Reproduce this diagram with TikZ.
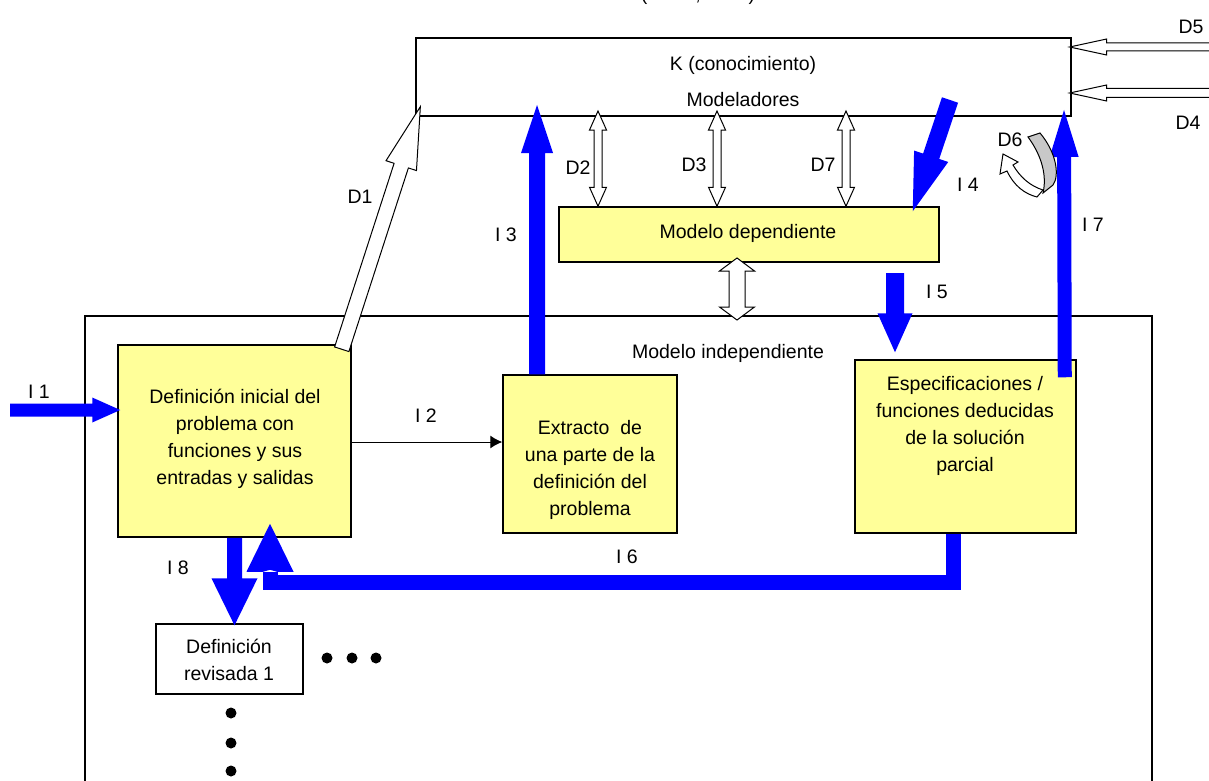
\documentclass[tikz,border=0pt]{standalone}
\usepackage{fontspec}
\setmainfont{Liberation Sans}
\usetikzlibrary{calc,arrows.meta}
\definecolor{yfill}{RGB}{255,255,153}
\definecolor{bandgray}{RGB}{200,200,200}
% fat single-headed arrow: style, start, end, half shaft, half head, head length
\newcommand{\fatarr}[6]{%
  \path #2 coordinate (fas);
  \path #3 coordinate (fae);
  \path ($(fae)!#6!(fas)$) coordinate (fab);
  \draw[#1] ($(fas)!#4!90:(fae)$) -- ($(fab)!#4!-90:(fas)$) -- ($(fab)!#5!-90:(fas)$) -- (fae)
    -- ($(fab)!#5!90:(fas)$) -- ($(fab)!#4!90:(fas)$) -- ($(fas)!#4!-90:(fae)$) -- cycle;
}
% fat double-headed arrow
\newcommand{\dfatarr}[6]{%
  \path #2 coordinate (fas);
  \path #3 coordinate (fae);
  \path ($(fae)!#6!(fas)$) coordinate (fab);
  \path ($(fas)!#6!(fae)$) coordinate (fac);
  \draw[#1] (fas) -- ($(fac)!#5!90:(fae)$) -- ($(fac)!#4!90:(fae)$) -- ($(fab)!#4!-90:(fas)$)
    -- ($(fab)!#5!-90:(fas)$) -- (fae) -- ($(fab)!#5!90:(fas)$) -- ($(fab)!#4!90:(fas)$)
    -- ($(fac)!#4!-90:(fae)$) -- ($(fac)!#5!-90:(fae)$) -- cycle;
}
\tikzset{
  ybox/.style={draw, line width=1.5pt, fill=yfill, inner sep=0pt},
  wbox/.style={draw, line width=1.3pt, fill=white, inner sep=0pt},
  lbl/.style={font=\fontsize{19.5}{27}\selectfont, inner sep=0pt, align=center},
  barr/.style={fill=blue, draw=none},
  harr/.style={fill=white, draw=black, line width=1pt, line join=miter},
}
\begin{document}
\begin{tikzpicture}[x=1pt,y=-1pt]
\useasboundingbox (0,0) rectangle (1209,781);
% partially visible title
\node[lbl, anchor=base] (toptxt) at (698,1) {(\hspace*{48pt},\hspace*{48pt})};
% knowledge box
\node[draw, line width=1.3pt, minimum width=655pt, minimum height=78pt] (K) at (743.5,77) {};
\node[lbl] (Ktxt) at (743,65) {K (conocimiento)};
\node[lbl] (Kmod) at (743,100) {Modeladores};
% independent model frame
\draw[line width=1.3pt] (85,782) -- (85,316) -- (1152,316) -- (1152,782);
\node[lbl] (indeplbl) at (728,353) {Modelo independiente};
% boxes
\node[ybox, minimum width=233pt, minimum height=192pt] (box1) at (234.5,441) {};
\node[ybox, minimum width=174pt, minimum height=158pt] (box2) at (590,454) {};
\node[ybox, minimum width=221pt, minimum height=173pt] (box3) at (965.5,446.5) {};
\node[ybox, minimum width=380pt, minimum height=55pt] (dep) at (749,234.5) {};
\node[wbox, minimum width=147pt, minimum height=70pt] (rev) at (229.5,659) {};
\node[lbl] (t1) at (235,439) {Definición inicial del\\problema con\\funciones y sus\\entradas y salidas};
\node[lbl] (t2) at (590,469.5) {Extracto\ \ de\\una parte de la\\definición del\\problema};
\node[lbl] (t3) at (965,426) {Especificaciones /\\funciones deducidas\\de la solución\\parcial};
\node[lbl] (tdep) at (748,233) {Modelo dependiente};
\node[lbl] (trev) at (229,660) {Definición\\revisada 1};
% free end coordinates
\coordinate (i1s) at (10,410);
\coordinate (i3e) at (537,105);
\coordinate (d2t) at (598,111);
\coordinate (d3t) at (717,111);
\coordinate (d7t) at (846,111);
\coordinate (mdt) at (737,258);
\coordinate (mdb) at (737,320);
\coordinate (i4s) at (950,100);
\coordinate (i5s) at (895,273);
\coordinate (i7e) at (1064,110);
\coordinate (d5s) at (1216,47);
\coordinate (d4s) at (1216,93);
% I1
\fatarr{barr}{(i1s)}{([xshift=3pt]box1.west |- i1s)}{6.5pt}{12.5pt}{28pt}
% I2
\draw[line width=1pt, -{Latex[length=12pt,width=13pt]}] (box1.east |- 0,442) -- (box2.west |- 0,442);
% I3
\fatarr{barr}{(box2.north -| i3e)}{(i3e)}{8pt}{16pt}{48pt}
% D1
\fatarr{harr}{([xshift=-10pt,yshift=-5pt]box1.north east)}{([xshift=5pt,yshift=10pt]K.south west)}{7.5pt}{16pt}{62pt}
% D2 D3 D7
\dfatarr{harr}{(d2t)}{(d2t |- dep.north)}{4pt}{8.5pt}{19pt}
\dfatarr{harr}{(d3t)}{(d3t |- dep.north)}{4pt}{8.5pt}{19pt}
\dfatarr{harr}{(d7t)}{(d7t |- dep.north)}{4pt}{8.5pt}{19pt}
% dependent <-> independent
\dfatarr{harr}{(mdt)}{(mdb)}{8pt}{17.5pt}{13pt}
% I4
\fatarr{barr}{(i4s)}{([xshift=-27pt,yshift=-5pt]dep.north east)}{8.5pt}{18pt}{58pt}
% I5
\fatarr{barr}{(i5s)}{([xshift=-70.5pt,yshift=7pt]box3.north)}{9pt}{17.5pt}{39pt}
% I7
\fatarr{barr}{([xshift=-12pt,yshift=-18pt]box3.north east)}{(i7e)}{7pt}{14.5pt}{47pt}
% I6
\draw[blue, line width=15pt, line join=miter] ([xshift=-12.5pt]box3.south) |- ([xshift=35.5pt,yshift=-45pt]box1.south) -- ([xshift=35.5pt,yshift=-34pt]box1.south);
\fatarr{barr}{([xshift=35.5pt,yshift=-30pt]box1.south)}{([xshift=35.5pt,yshift=14pt]box1.south)}{7pt}{23.5pt}{48pt}
% I8
\fatarr{barr}{(box1.south)}{([yshift=-2pt]box1.south |- rev.north)}{7.5pt}{23pt}{47pt}
% D5 D4
\fatarr{harr}{(d5s)}{([xshift=-2pt]K.east |- d5s)}{4pt}{8pt}{37pt}
\fatarr{harr}{(d4s)}{([xshift=-2pt]K.east |- d4s)}{4.5pt}{8pt}{37pt}
% D6 curled arrow
\draw[harr] (1037,197) .. controls (1025,194) and (1014,186) .. (1007,171) -- (1000,174) -- (1003,154)
  -- (1018,162) -- (1013,165) .. controls (1020,177) and (1030,186) .. (1043,190) -- cycle;
\draw[fill=bandgray, draw=black, line width=1pt] (1028,137) -- (1040,133) .. controls (1056,152) and (1060,175) .. (1053,185)
  -- (1043,193) .. controls (1047,176) and (1042,156) .. (1028,137) -- cycle;
% dots
\foreach \dx in {327,352,376} \fill (\dx,658) circle (5.5pt);
\foreach \dy in {713,743,771} \fill (231,\dy) circle (5.5pt);
% labels
\node[lbl] (l1) at (39,392) {I 1};
\node[lbl] (l2) at (426,416) {I 2};
\node[lbl] (l3) at (506,235) {I 3};
\node[lbl] (ld1) at (360,197) {D1};
\node[lbl] (ld2) at (578,168) {D2};
\node[lbl] (ld3) at (694,165) {D3};
\node[lbl] (ld7) at (823,165) {D7};
\node[lbl] (l4) at (968,185) {I 4};
\node[lbl] (l5) at (937,292) {I 5};
\node[lbl] (ld6) at (1010,140) {D6};
\node[lbl] (l7) at (1093,225) {I 7};
\node[lbl] (ld5) at (1191,27) {D5};
\node[lbl] (ld4) at (1188,123) {D4};
\node[lbl] (l6) at (627,557) {I 6};
\node[lbl] (l8) at (178,568) {I 8};
\end{tikzpicture}
\end{document}
